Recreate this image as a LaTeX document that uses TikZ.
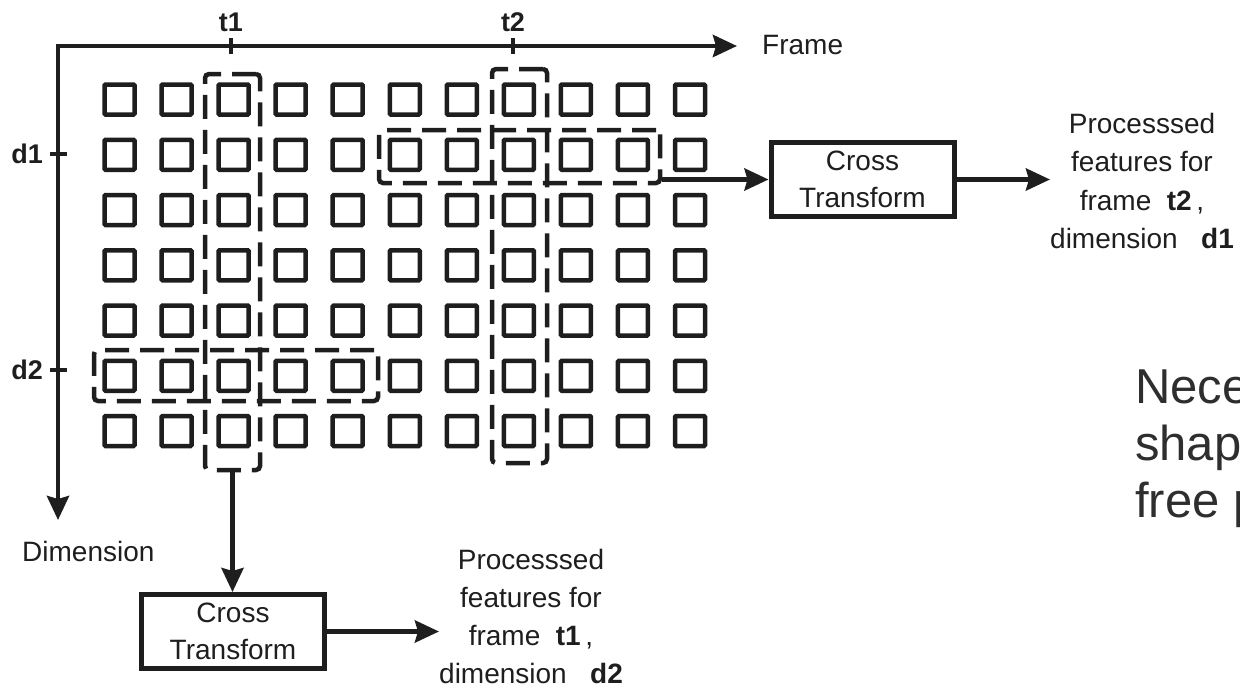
\documentclass[tikz,border=0pt]{standalone}
\usepackage{fontspec}
\setmainfont{Liberation Sans}
\usetikzlibrary{arrows.meta}
\definecolor{ink}{HTML}{1E1E1E}
\definecolor{notegray}{HTML}{2E2E2E}
\begin{document}
\begin{tikzpicture}[x=1pt,y=-1pt,
  sq/.style={draw=ink, line width=4.5pt, minimum size=30pt, inner sep=0pt, rounded corners=1pt},
  sel/.style={draw=ink, line width=4.5pt, dash pattern=on 24pt off 11pt, rounded corners=4pt, inner sep=0pt},
  tip/.style={-{Stealth[length=24pt,width=22pt,inset=3pt]}},
  arr/.style={draw=ink, line width=4.5pt, tip},
  ctbox/.style={draw=ink, line width=5pt, minimum width=183pt, minimum height=74pt, align=center, inner sep=0pt, text=ink, font=\fontsize{28}{37}\selectfont},
  lbl/.style={font=\fontsize{28}{38.5}\selectfont, align=center, inner sep=0pt, text=ink},
  lblb/.style={font=\fontsize{28}{38}\selectfont, align=center, inner sep=0pt, text=ink},
  axlbl/.style={font=\fontsize{27}{30}\selectfont\bfseries, inner sep=0pt, text=ink},
  tickline/.style={draw=ink, line width=4.5pt}
]
\useasboundingbox (0,0) rectangle (1240,686);
\clip (0,0) rectangle (1240,686);

% axes
\coordinate (O) at (58,46);
\coordinate (xe) at (737,46);
\coordinate (ye) at (58,520);
\draw[draw=ink, line width=4.5pt, {Stealth[length=24pt,width=22pt,inset=3pt]}-{Stealth[length=24pt,width=22pt,inset=3pt]}] (xe) -- (O) -- (ye);
\node[lbl, anchor=west] (frame) at (762,45) {Frame};
\node[lbl, anchor=west] (dim) at (22,551) {Dimension};

% ticks and labels
\coordinate (t1a) at (231,38); \coordinate (t1b) at (231,54);
\coordinate (t2a) at (513,38); \coordinate (t2b) at (513,54);
\coordinate (d1a) at (50,154); \coordinate (d1b) at (67,154);
\coordinate (d2a) at (50,370); \coordinate (d2b) at (67,370);
\draw[tickline] (t1a) -- (t1b);
\draw[tickline] (t2a) -- (t2b);
\draw[tickline] (d1a) -- (d1b);
\draw[tickline] (d2a) -- (d2b);
\node[axlbl] (t1) at (231,22) {t1};
\node[axlbl] (t2) at (513,22) {t2};
\node[axlbl, anchor=east] (d1) at (43,154) {d1};
\node[axlbl, anchor=east] (d2) at (43,370) {d2};

% grid of squares
\foreach \i in {1,...,11} {
  \foreach \j in {1,...,7} {
    \node[sq] (s\i-\j) at ({119.5+57.05*(\i-1)}, {99.5+55.25*(\j-1)}) {};
  }
}

% dashed selections
\node[sel, minimum width=55pt, minimum height=396pt] (t1r) at (232.5,272) {};
\node[sel, minimum width=55pt, minimum height=394pt] (t2r) at (519.5,266) {};
\node[sel, minimum width=281pt, minimum height=53pt] (d1r) at (519.5,156.5) {};
\node[sel, minimum width=284pt, minimum height=51pt] (d2r) at (236,375.5) {};

% cross transform boxes
\node[ctbox] (ct1) at (862.5,179.5) {Cross\\Transform};
\node[ctbox] (ct2) at (233,631.5) {Cross\\Transform};

% outputs
\node[lbl] (out1) at (1142,181) {Processsed\\features for\\frame~~\textbf{t2}\,,\\dimension~~~\textbf{d1}};
\node[lblb] (out2) at (531,616) {Processsed\\features for\\frame~~\textbf{t1}\,,\\dimension~~~\textbf{d2}};

% connectors
\draw[arr] (ct1.west -| d1r.east) -- (ct1.west);
\draw[arr] (ct1.east) -- (ct1.east -| out1.west);
\draw[arr] (t1r.south) -- (t1r.south |- ct2.north);
\draw[arr] (ct2.east) -- (ct2.east -| out2.west);

% partially visible note
\node[anchor=base west, inner sep=0pt, text=notegray, font=\fontsize{49}{57}\selectfont] (n1) at (1135,403) {Nece};
\node[anchor=base west, inner sep=0pt, text=notegray, font=\fontsize{49}{57}\selectfont] (n2) at (1135,460) {shap};
\node[anchor=base west, inner sep=0pt, text=notegray, font=\fontsize{49}{57}\selectfont] (n3) at (1135,517) {free p};
\end{tikzpicture}
\end{document}
